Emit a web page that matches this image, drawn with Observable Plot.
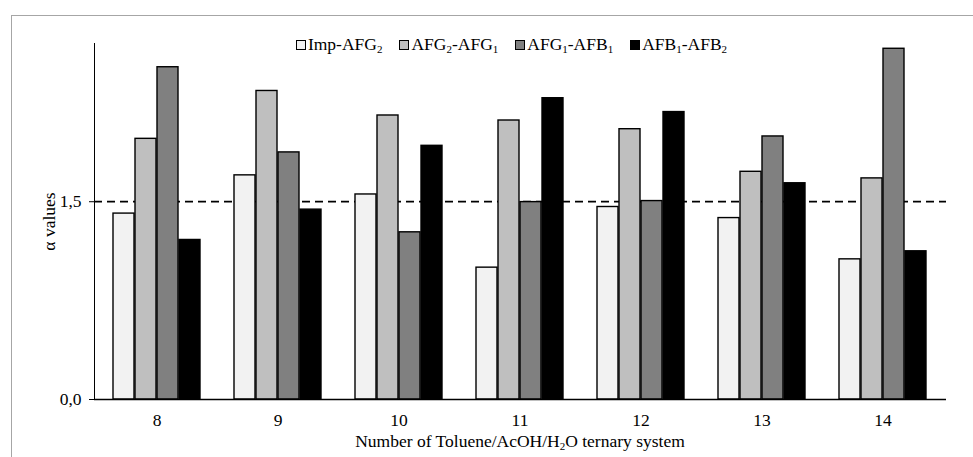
<!DOCTYPE html>
<html>
<head>
<meta charset="utf-8">
<script src="https://cdn.jsdelivr.net/npm/d3@7"></script>
<script src="https://cdn.jsdelivr.net/npm/@observablehq/plot@0.6"></script>
<style>
  html, body { margin: 0; padding: 0; background: #fff; overflow: hidden; }
  #wrap { position: relative; width: 973px; height: 457px; overflow: hidden; font-family: "Liberation Serif", "Times New Roman", serif; color: #000; }
  #border { position: absolute; left: 11px; top: 15px; width: 2000px; height: 2000px; border: 1.5px solid #a6a6a6; pointer-events: none; z-index: 3; }
  #legend { position: absolute; left: 0; top: 34px; width: 973px; display: flex; justify-content: center; padding-left: 50px; box-sizing: border-box; font-size: 17.5px; z-index: 2; }
  .item { display: flex; align-items: center; margin: 0 8.5px; white-space: nowrap; }
  .sw { width: 8px; height: 8px; border: 1.3px solid #000; margin-right: 2px; }
  sub { font-size: 11px; vertical-align: -3px; line-height: 0; }
  #xlabel { position: absolute; left: 94px; width: 852px; top: 431px; text-align: center; font-size: 17.5px; z-index: 2; }
  svg { position: absolute; left: 0; top: 0; }
</style>
</head>
<body>
<div id="wrap">
  <div id="chart"></div>
  <div id="legend"></div>
  <div id="xlabel">Number of Toluene/AcOH/H<sub>2</sub>O ternary system</div>
  <div id="border"></div>
</div>
<script>
const groups = ["8", "9", "10", "11", "12", "13", "14"];
const seriesNames = ["Imp-AFG2", "AFG2-AFG1", "AFG1-AFB1", "AFB1-AFB2"];
const seriesLabels = ["Imp-AFG<sub>2</sub>", "AFG<sub>2</sub>-AFG<sub>1</sub>", "AFG<sub>1</sub>-AFB<sub>1</sub>", "AFB<sub>1</sub>-AFB<sub>2</sub>"];
const seriesColors = ["#f2f2f2", "#bfbfbf", "#808080", "#000000"];
const impAFG2  = [1.41, 1.70, 1.555, 1.00, 1.46, 1.376, 1.063];
const afg2AFG1 = [1.977, 2.34, 2.154, 2.116, 2.05, 1.727, 1.677];
const afg1AFB1 = [2.52, 1.874, 1.268, 1.497, 1.505, 1.995, 2.66];
const afb1AFB2 = [1.21, 1.44, 1.924, 2.285, 2.18, 1.64, 1.124];
const yTicks = [0, 1.5];
const threshold = 1.5;

const seriesValues = [impAFG2, afg2AFG1, afg1AFB1, afb1AFB2];
const rows = [];
seriesNames.forEach((s, i) => groups.forEach((g, j) => rows.push({group: g, series: s, value: seriesValues[i][j]})));

const barW = 22;
const nS = seriesNames.length;

const plot = Plot.plot({
  width: 973,
  height: 457,
  marginLeft: 94,
  marginRight: 27,
  marginTop: 43,
  marginBottom: 58,
  style: {fontFamily: "Liberation Serif, Times New Roman, serif", fontSize: "17.5px", background: "none", color: "#000"},
  x: {domain: groups, paddingInner: 0.277, paddingOuter: 0.1385, tickSize: 0, tickPadding: 14, label: null},
  y: {domain: [0, 2.7], ticks: yTicks, tickFormat: d => d.toFixed(1).replace(".", ","), tickSize: 5, tickPadding: 8, line: true, label: "α values", labelAnchor: "center", labelOffset: 52, labelArrow: "none"},
  color: {domain: seriesNames, range: seriesColors},
  marks: [
    Plot.ruleY([threshold], {stroke: "#000", strokeWidth: 1.8, strokeDasharray: "8,5"}),
    ...seriesNames.map((s, i) => Plot.barY(rows.filter(d => d.series === s), {
      x: "group", y: "value", fill: "series",
      stroke: "#000", strokeWidth: 1.4,
      insetLeft: barW * i, insetRight: barW * (nS - 1 - i)
    })),
    Plot.ruleY([0], {stroke: "#000", strokeWidth: 1.5})
  ]
});
document.getElementById("chart").appendChild(plot);

const legend = document.getElementById("legend");
seriesLabels.forEach((lab, i) => {
  const it = document.createElement("div");
  it.className = "item";
  it.innerHTML = `<span class="sw" style="background:${seriesColors[i]}"></span><span>${lab}</span>`;
  legend.appendChild(it);
});
</script>
</body>
</html>
